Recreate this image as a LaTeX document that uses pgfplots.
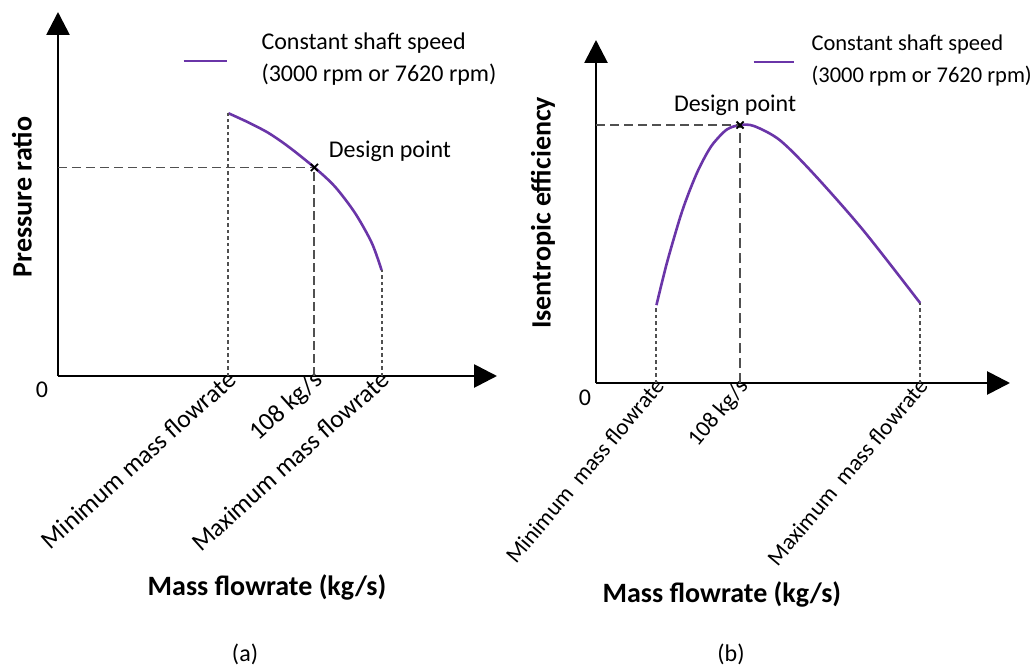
\documentclass[border=0pt]{standalone}
\usepackage{fontspec}
\setmainfont{Carlito}
\usepackage{pgfplots}
\pgfplotsset{compat=1.18}
\usetikzlibrary{arrows.meta}

\definecolor{speedline}{HTML}{6A35A8}
\definecolor{guide}{HTML}{505050}

\pgfplotsset{
  sketch/.style={
    scale only axis,
    axis lines=left,
    axis line style={line width=2.8pt},
    x axis line style={-{Triangle[length=23pt,width=23pt]}},
    y axis line style={-{Triangle[length=23pt,width=23pt]}},
    xmin=0, xmax=100, ymin=0, ymax=100,
    ytick=\empty,
    major tick length=0pt,
    clip=false,
    font=\fontsize{24}{32}\selectfont,
    xticklabel style={anchor=north east, inner sep=1pt},
    legend style={draw=none, fill=none, inner sep=0pt, cells={inner sep=0pt},
      legend cell align=left},
  },
  speed/.style={color=speedline, line width=2.6pt, smooth, no marks},
  hguide/.style={guide, line width=1.8pt, dash pattern=on 9pt off 5pt, no marks},
  vdot/.style={guide, line width=2pt, dash pattern=on 3.5pt off 3pt, no marks},
  vdash/.style={guide, line width=1.8pt, dash pattern=on 9pt off 4pt, no marks},
  design/.style={only marks, mark=x, mark size=5pt, mark options={black, line width=1.8pt}},
}

\begin{document}
\begin{tikzpicture}
\useasboundingbox (0,0) rectangle (1036pt,667pt);

% ---------------- (a) pressure ratio ----------------
\begin{axis}[sketch,
  at={(58pt,291pt)}, anchor=south west,
  width=439pt, height=364pt,
  xtick={38.8,58.4,73.7},
  xticklabels={Minimum mass flowrate, 108 kg/s, Maximum mass flowrate},
  xticklabel style={rotate=42, yshift=8pt, xshift=4pt, font=\fontsize{25.5}{30}\selectfont},
  legend style={at={(rel axis cs:0.2825,0.904)}, anchor=west, font=\fontsize{24}{32}\selectfont},
  legend image code/.code={\draw[#1] (0pt,-14pt) -- (43pt,-14pt); \path[draw=none] (0pt,-14pt) -- (76pt,-14pt);},
]
\addplot[speed] coordinates {
  (38.8,72.2) (43.3,69.7) (47.9,66.8) (52.5,63.0) (58.4,57.3)
  (63.1,52.0) (67.7,44.7) (71.5,36.5) (73.7,29.1)
};
\addlegendentry{\begin{tabular}{@{}l@{}}Constant shaft speed\\(3000 rpm or 7620 rpm)\end{tabular}}
\addplot[hguide, forget plot] coordinates {(0,57.3) (58.4,57.3)};
\addplot[vdot, forget plot] coordinates {(38.8,0) (38.8,72.2)};
\addplot[vdash, forget plot] coordinates {(58.4,0) (58.4,57.3)};
\addplot[vdot, forget plot] coordinates {(73.7,0) (73.7,29.1)};
\addplot[design, forget plot] coordinates {(58.4,57.3)};
\node[anchor=west] at ([shift={(11pt,16pt)}]axis cs:58.4,57.3) {Design point};
\node at ([shift={(-16pt,-14pt)}]axis cs:0,0) {0};
\node[rotate=90, font=\bfseries\fontsize{28}{34}\selectfont] at (rel axis cs:-0.082,0.492) {Pressure ratio};
\node[font=\bfseries\fontsize{28}{34}\selectfont] at (rel axis cs:0.476,-0.58) {Mass flowrate (kg/s)};
\node at (rel axis cs:0.426,-0.766) {(a)};
\end{axis}

% ---------------- (b) isentropic efficiency ----------------
\begin{axis}[sketch,
  at={(596pt,284pt)}, anchor=south west,
  width=414pt, height=343pt,
  xtick={14.6,34.8,78.3},
  xticklabels={Minimum\ \ mass flowrate, 108 kg/s, Maximum\ \ mass flowrate},
  xticklabel style={rotate=50, yshift=8pt, xshift=4pt, font=\fontsize{23}{28}\selectfont},
  legend style={at={(rel axis cs:0.377,0.977)}, anchor=west, font=\fontsize{22.5}{32}\selectfont},
  legend image code/.code={\draw[#1] (0pt,-14pt) -- (40pt,-14pt); \path[draw=none] (0pt,-14pt) -- (56pt,-14pt);},
]
\addplot[speed] coordinates {
  (14.6,22.7) (17.1,34.9) (20.3,48.2) (22.3,55.1) (24.4,61.3)
  (26.3,65.9) (28.3,69.8) (31.6,73.9) (34.8,75.2) (38.2,74.9)
  (44.4,70.8) (52.4,61.2) (64.5,44.6) (78.3,23.3)
};
\addlegendentry{\begin{tabular}{@{}l@{}}Constant shaft speed\\(3000 rpm or 7620 rpm)\end{tabular}}
\addplot[hguide, forget plot] coordinates {(0,75.2) (34.8,75.2)};
\addplot[vdot, forget plot] coordinates {(14.6,0) (14.6,22.7)};
\addplot[vdash, dash pattern=on 10pt off 5pt, forget plot] coordinates {(34.8,0) (34.8,75.2)};
\addplot[vdot, forget plot] coordinates {(78.3,0) (78.3,23.3)};
\addplot[design, forget plot] coordinates {(34.8,75.2)};
\node at ([shift={(-5pt,20pt)}]axis cs:34.8,75.2) {Design point};
\node at ([shift={(-11pt,-15pt)}]axis cs:0,0) {0};
\node[rotate=90, font=\bfseries\fontsize{28}{34}\selectfont] at (rel axis cs:-0.128,0.496) {Isentropic efficiency};
\node[font=\bfseries\fontsize{28}{34}\selectfont] at (rel axis cs:0.304,-0.618) {Mass flowrate (kg/s)};
\node at (rel axis cs:0.326,-0.790) {(b)};
\end{axis}
\end{tikzpicture}
\end{document}
